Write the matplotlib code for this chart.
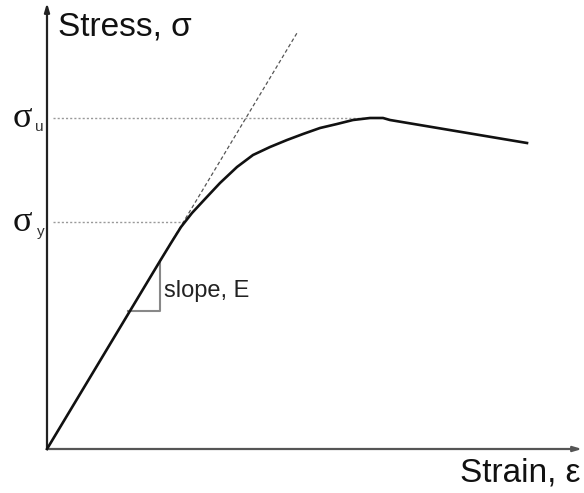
import matplotlib.pyplot as plt
import numpy as np

# stress-strain curve (arbitrary units)
strain = [0, 113, 124, 134, 145, 158, 173, 190, 206, 223, 240, 256, 273, 290,
          306, 323, 336, 343, 480]
stress = [0, 188, 206, 222, 236, 250, 266, 282, 294, 302, 309, 315, 321, 325,
          329, 331, 331, 329, 306]

# elastic tangent line (dashed)
tan_strain = [0, 250]
tan_stress = [0, 416]

# yield / ultimate levels
sig_y = 227
sig_u = 331
sig_y_end = 136
sig_u_end = 318

# slope triangle
tri_strain = [81, 113, 113]
tri_stress = [138, 138, 186]

fig = plt.figure(figsize=(5.84, 4.93), dpi=100)
ax = fig.add_axes([0, 0, 1, 1])
ax.set_xlim(-47, 537)
ax.set_ylim(-44, 449)
ax.axis('off')

sans = ['Liberation Sans', 'DejaVu Sans']
serif = ['Liberation Serif', 'DejaVu Serif']

# axes with arrows
ax.annotate('', xy=(0, 446), xytext=(0, 0),
            arrowprops=dict(arrowstyle='-|>,head_length=0.5,head_width=0.15',
                            color='#222222', lw=1.6, shrinkA=0, shrinkB=0))
ax.annotate('', xy=(535, 0), xytext=(0, 0),
            arrowprops=dict(arrowstyle='-|>,head_length=0.5,head_width=0.15',
                            color='#555555', lw=1.6, shrinkA=0, shrinkB=0))

# dotted guide lines
ax.plot([6, sig_u_end], [sig_u, sig_u], color='#999999', lw=1.0, ls=(0, (1.5, 1.5)))
ax.plot([6, sig_y_end], [sig_y, sig_y], color='#999999', lw=1.0, ls=(0, (1.5, 1.5)))

# tangent
ax.plot(tan_strain, tan_stress, color='#555555', lw=0.9, ls=(0, (3, 2)), zorder=2)

# triangle
ax.plot(tri_strain, tri_stress, color='#888888', lw=1.5, zorder=2)

# curve
ax.plot(strain, stress, color='#111111', lw=1.9, solid_joinstyle='round', zorder=3)

# labels
ax.text(11, 414, 'Stress, σ', fontsize=24, family=sans, color='#111111', va='baseline')
ax.text(533, -33, 'Strain, ε', fontsize=24, family=sans, color='#111111',
        va='baseline', ha='right')
ax.text(-34, sig_u - 9, 'σ', fontsize=26, family=serif, color='#111111', va='baseline')
ax.text(-12, sig_u - 13, 'u', fontsize=11, family=sans, color='#333333', va='baseline')
ax.text(-34, sig_y - 9, 'σ', fontsize=26, family=serif, color='#111111', va='baseline')
ax.text(-10, sig_y - 14, 'y', fontsize=11, family=sans, color='#333333', va='baseline')
ax.text(117, 152, 'slope, E', fontsize=17, family=sans, color='#222222', va='baseline')

fig.savefig('out.png', dpi=100)
